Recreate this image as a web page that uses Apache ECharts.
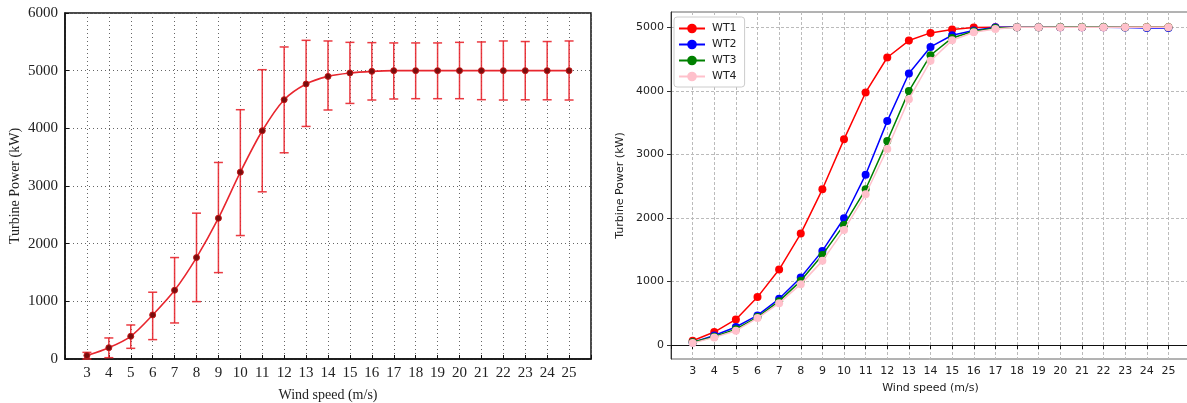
<!DOCTYPE html>
<html>
<head>
<meta charset="utf-8">
<script src="https://cdn.jsdelivr.net/npm/echarts@6/dist/echarts.min.js"></script>
<style>
  html, body { margin: 0; padding: 0; background: #fff; }
  #chart { width: 1187px; height: 403px; }
</style>
</head>
<body>
<div id="chart"></div>
<script>
// wind speed bins (m/s)
const speeds = [3, 4, 5, 6, 7, 8, 9, 10, 11, 12, 13, 14, 15, 16, 17, 18, 19, 20, 21, 22, 23, 24, 25];

// left panel: mean power curve with spread
const meanPower = [60, 196, 394, 764, 1192, 1759, 2442, 3240, 3958, 4497, 4769, 4901, 4960, 4988, 5000, 5000, 5000, 5000, 5000, 5000, 5000, 5000, 5000];
const lowPower = [0, 23, 185, 336, 625, 995, 1498, 2141, 2899, 3576, 4033, 4318, 4432, 4491, 4509, 4514, 4514, 4514, 4497, 4491, 4495, 4495, 4491];
const highPower = [115, 365, 590, 1158, 1759, 2529, 3408, 4323, 5017, 5411, 5526, 5515, 5491, 5486, 5481, 5481, 5481, 5491, 5498, 5515, 5505, 5505, 5515];

// right panel: one curve per turbine
const turbineNames = ['WT1', 'WT2', 'WT3', 'WT4'];
const turbineColors = ['#ff0000', '#0000ff', '#008000', '#ffc0cb'];
const wt1 = [68, 204, 402, 754, 1188, 1753, 2450, 3236, 3974, 4524, 4791, 4911, 4964, 4995, 5000, 5000, 5000, 5000, 5000, 5000, 5000, 5000, 5000];
const wt2 = [40, 150, 283, 466, 727, 1062, 1481, 1995, 2680, 3523, 4272, 4690, 4874, 4948, 5000, 5000, 5000, 5000, 5000, 5000, 4995, 4990, 4990];
const wt3 = [45, 130, 250, 440, 690, 1010, 1418, 1890, 2450, 3209, 3995, 4560, 4832, 4937, 4990, 5000, 5000, 5005, 5005, 5005, 5000, 5000, 5000];
const wt4 = [30, 120, 225, 424, 659, 958, 1324, 1811, 2372, 3084, 3869, 4471, 4796, 4922, 4974, 5000, 5000, 5000, 5000, 5000, 5000, 5000, 5000];
const turbineData = [wt1, wt2, wt3, wt4];

const rightYTicks = [0, 1000, 2000, 3000, 4000, 5000];

const serif = '"Liberation Serif", "DejaVu Serif", serif';
const sans = '"DejaVu Sans", sans-serif';

const chart = echarts.init(document.getElementById('chart'), null, { renderer: 'canvas' });

const hideEnds = (v) => (v < 3 || v > 25 ? '' : String(v));
const plain = (v) => String(v);

chart.setOption({
  animation: false,
  backgroundColor: '#fff',
  grid: [
    { left: 65, right: 596, top: 13, bottom: 44, outerBoundsMode: 'none', show: true, borderColor: '#111', borderWidth: 1.5, backgroundColor: 'transparent' },
    { left: 671, right: -3, top: 12, bottom: 44, outerBoundsMode: 'none', show: true, borderColor: '#666', borderWidth: 1, backgroundColor: 'transparent' }
  ],
  legend: {
    data: turbineNames,
    orient: 'vertical',
    left: 674,
    top: 17,
    padding: [6, 8, 5, 4],
    itemGap: 5,
    itemWidth: 26,
    itemHeight: 12,
    backgroundColor: '#fff',
    borderColor: '#ccc',
    borderWidth: 1,
    borderRadius: 3,
    textStyle: { fontFamily: sans, fontSize: 11, color: '#222', padding: [0, 0, 0, 2] }
  },
  xAxis: [
    {
      gridIndex: 0, type: 'value', min: 2, max: 26, interval: 1,
      name: 'Wind speed (m/s)', nameLocation: 'middle', nameGap: 29,
      nameTextStyle: { fontFamily: serif, fontSize: 14, color: '#222' },
      axisLine: { show: true, lineStyle: { color: '#111', width: 1.5 } },
      axisTick: { show: true, inside: true, length: 4, lineStyle: { color: '#111' } },
      axisLabel: { formatter: hideEnds, fontFamily: serif, fontSize: 15, color: '#222', margin: 7 },
      splitLine: { show: true, lineStyle: { color: '#666', type: [1, 3], width: 1 } }
    },
    {
      gridIndex: 1, type: 'value', min: 2, max: 26, interval: 1,
      name: 'Wind speed (m/s)', nameLocation: 'middle', nameGap: 24,
      nameTextStyle: { fontFamily: sans, fontSize: 11, color: '#222' },
      axisLine: { show: true, lineStyle: { color: '#111', width: 1 } },
      axisTick: { show: true, length: 4, lineStyle: { color: '#111' } },
      axisLabel: { formatter: hideEnds, fontFamily: sans, fontSize: 11, color: '#222', margin: 7 },
      splitLine: { show: true, lineStyle: { color: '#bbb', type: [3, 2], width: 1 } }
    }
  ],
  yAxis: [
    {
      gridIndex: 0, type: 'value', min: 0, max: 6000, interval: 1000,
      name: 'Turbine Power (kW)', nameLocation: 'middle', nameGap: 43,
      nameTextStyle: { fontFamily: serif, fontSize: 14, color: '#222' },
      axisLine: { show: true, lineStyle: { color: '#111', width: 1.5 } },
      axisTick: { show: true, inside: true, length: 4, lineStyle: { color: '#111' } },
      axisLabel: { formatter: plain, fontFamily: serif, fontSize: 15, color: '#222', margin: 7 },
      splitLine: { show: true, lineStyle: { color: '#666', type: [1, 3], width: 1 } }
    },
    {
      gridIndex: 1, type: 'value', min: -220, max: 5240,
      name: 'Turbine Power (kW)', nameLocation: 'middle', nameGap: 45,
      nameTextStyle: { fontFamily: sans, fontSize: 11, color: '#222' },
      axisLine: { show: true, lineStyle: { color: '#333', width: 1 } },
      axisTick: { show: true, length: 4, customValues: rightYTicks, lineStyle: { color: '#333' } },
      axisLabel: { customValues: rightYTicks, formatter: plain, fontFamily: sans, fontSize: 11, color: '#222', margin: 7 },
      splitLine: { show: true, lineStyle: { color: '#bbb', type: [3, 2], width: 1 } }
    }
  ],
  series: [
    {
      type: 'custom',
      xAxisIndex: 0, yAxisIndex: 0,
      data: speeds.map((s, i) => [s, lowPower[i], highPower[i]]),
      encode: { x: 0, y: [1, 2] },
      z: 3,
      renderItem: (params, api) => {
        const x = api.value(0);
        const lo = api.coord([x, api.value(1)]);
        const hi = api.coord([x, api.value(2)]);
        const hw = 4.5;
        const style = { stroke: '#e8262e', lineWidth: 1.5, opacity: 0.9 };
        return {
          type: 'group',
          children: [
            { type: 'line', shape: { x1: lo[0], y1: lo[1], x2: hi[0], y2: hi[1] }, style },
            { type: 'line', shape: { x1: lo[0] - hw, y1: lo[1], x2: lo[0] + hw, y2: lo[1] }, style },
            { type: 'line', shape: { x1: hi[0] - hw, y1: hi[1], x2: hi[0] + hw, y2: hi[1] }, style }
          ]
        };
      }
    },
    {
      type: 'line',
      xAxisIndex: 0, yAxisIndex: 0,
      data: speeds.map((s, i) => [s, meanPower[i]]),
      smooth: 0.3,
      symbol: 'circle',
      symbolSize: 6,
      z: 4,
      lineStyle: { color: '#e8262e', width: 1.6 },
      itemStyle: { color: '#7a0d0d', borderColor: '#c01818', borderWidth: 1 }
    },
    ...turbineNames.map((name, k) => ({
      name,
      type: 'line',
      xAxisIndex: 1, yAxisIndex: 1,
      data: speeds.map((s, i) => [s, turbineData[k][i]]),
      symbol: 'circle',
      symbolSize: 8,
      z: 5 + k,
      lineStyle: { color: turbineColors[k], width: 1.5 },
      itemStyle: { color: turbineColors[k] }
    }))
  ]
});
</script>
</body>
</html>
